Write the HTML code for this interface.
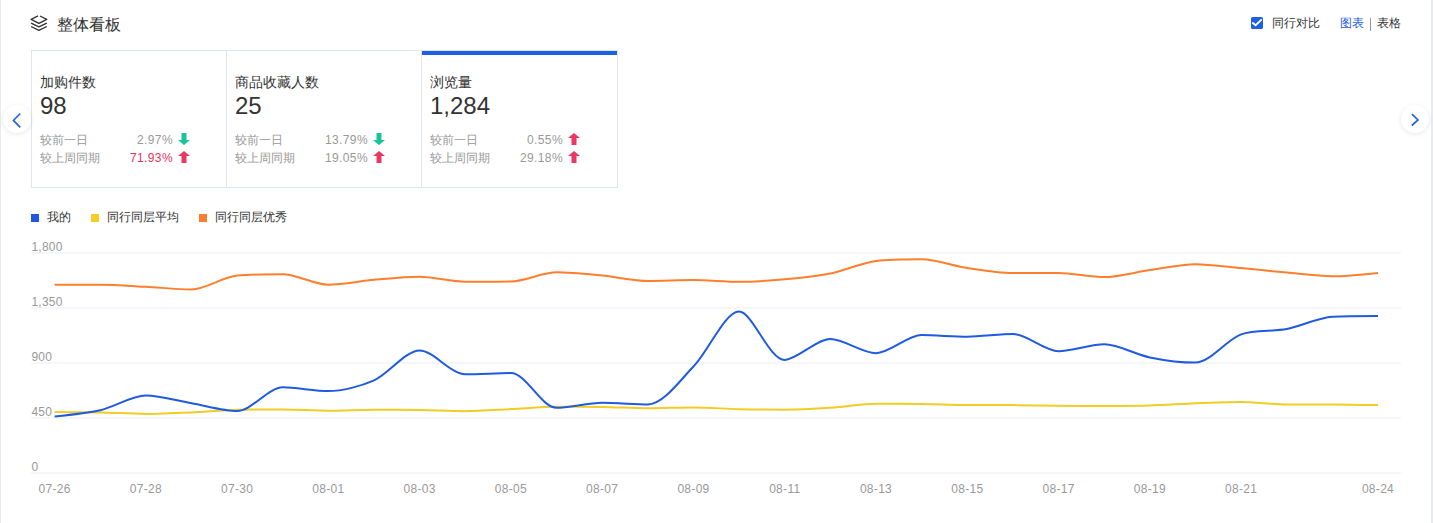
<!DOCTYPE html>
<html><head><meta charset="utf-8">
<style>
*{box-sizing:border-box}
html,body{margin:0;padding:0;background:#fff;width:1433px;height:523px;overflow:hidden;position:relative;font-family:"Liberation Sans",sans-serif}
.a{position:absolute;white-space:nowrap}
.title{left:57px;top:14px;font-size:16px;line-height:22px;color:#333}
.cards{left:31px;top:50px;width:587px;height:138px;border:1px solid #dde5ef}
.div1{left:226px;top:50px;width:1px;height:138px;background:#dde5ef}
.div2{left:421px;top:50px;width:1px;height:138px;background:#dde5ef}
.bar{left:422px;top:51px;width:195px;height:4px;background:#1f5fe3}
.lab{font-size:14px;line-height:20px;color:#333}
.val{font-size:24px;line-height:28px;color:#333}
.rl{font-size:12px;line-height:18px;color:#999}
.pc{font-size:12px;line-height:18px;color:#999;text-align:right;width:80px;letter-spacing:0.4px}
.red{color:#e8345c}
.nav{width:28px;height:28px;border-radius:50%;background:#fff;box-shadow:0 1px 5px rgba(0,0,0,0.10)}
.lg{font-size:12px;line-height:16px;color:#333}
.sq{width:8px;height:8px}
.yl{position:absolute;left:31.5px;font-size:12px;line-height:14px;color:#999;letter-spacing:0.2px}
.xl{position:absolute;top:481px;width:60px;text-align:center;font-size:12px;line-height:16px;color:#999;letter-spacing:0.3px}
</style></head><body>
<div class="a" style="left:0;top:0;width:1px;height:523px;background:#e8eaf0"></div>
<div class="a" style="left:1431px;top:0;width:2px;height:523px;background:#e8eaf0"></div>

<svg class="a" style="left:30px;top:14px" width="18" height="18" viewBox="0 0 18 18">
<path d="M8 1.95 L1.1 5.3 L8.9 9.3 L16.8 5.3 L10 2" fill="none" stroke="#333" stroke-width="1.3" stroke-linejoin="round"/>
<path d="M1.1 9.1 L8.9 12.9 L16.8 9.1" fill="none" stroke="#333" stroke-width="1.3" stroke-linejoin="round"/>
<path d="M1.1 12.5 L8.9 16.4 L16.8 12.5" fill="none" stroke="#333" stroke-width="1.3" stroke-linejoin="round"/>
</svg>
<div class="a title">整体看板</div>

<div class="a" style="left:1251px;top:17px;width:12px;height:12px;border-radius:1.5px;background:#1f5fe3"></div>
<svg class="a" style="left:1251px;top:17px" width="12" height="12" viewBox="0 0 12 12"><path d="M1.3 5.5 L4.6 8.2 L10.8 2.4" fill="none" stroke="#fff" stroke-width="1.8"/></svg>
<div class="a" style="left:1272px;top:14px;font-size:12px;line-height:18px;color:#333">同行对比</div>
<div class="a" style="left:1340px;top:14px;font-size:12px;line-height:18px;color:#1f5fe3">图表</div>
<div class="a" style="left:1370px;top:18px;width:1px;height:13px;background:#999"></div>
<div class="a" style="left:1377px;top:14px;font-size:12px;line-height:18px;color:#333">表格</div>

<div class="a cards"></div>
<div class="a div1"></div>
<div class="a div2"></div>
<div class="a bar"></div>

<!-- card 1 -->
<div class="a lab" style="left:40px;top:72px">加购件数</div>
<div class="a val" style="left:40px;top:92px">98</div>
<div class="a rl" style="left:40px;top:131px">较前一日</div>
<div class="a rl" style="left:40px;top:149px">较上周同期</div>
<div class="a pc" style="left:93px;top:131px">2.97%</div>
<div class="a pc red" style="left:93px;top:149px">71.93%</div>
<!-- card 2 -->
<div class="a lab" style="left:235px;top:72px">商品收藏人数</div>
<div class="a val" style="left:235px;top:92px">25</div>
<div class="a rl" style="left:235px;top:131px">较前一日</div>
<div class="a rl" style="left:235px;top:149px">较上周同期</div>
<div class="a pc" style="left:288px;top:131px">13.79%</div>
<div class="a pc" style="left:288px;top:149px">19.05%</div>
<!-- card 3 -->
<div class="a lab" style="left:430px;top:72px">浏览量</div>
<div class="a val" style="left:430px;top:92px">1,284</div>
<div class="a rl" style="left:430px;top:131px">较前一日</div>
<div class="a rl" style="left:430px;top:149px">较上周同期</div>
<div class="a pc" style="left:483px;top:131px">0.55%</div>
<div class="a pc" style="left:483px;top:149px">29.18%</div>

<!-- arrows -->
<svg class="a" style="left:178px;top:133px" width="12" height="12" viewBox="0 0 12 12"><path d="M3.5 0 H8.5 V7 H12 L6 12 L0 7 H3.5 Z" fill="#19c49a"/></svg>
<svg class="a" style="left:178px;top:151px" width="12" height="12" viewBox="0 0 12 12"><path d="M3.5 12 H8.5 V5 H12 L6 0 L0 5 H3.5 Z" fill="#ea3862"/></svg>
<svg class="a" style="left:373px;top:133px" width="12" height="12" viewBox="0 0 12 12"><path d="M3.5 0 H8.5 V7 H12 L6 12 L0 7 H3.5 Z" fill="#19c49a"/></svg>
<svg class="a" style="left:373px;top:151px" width="12" height="12" viewBox="0 0 12 12"><path d="M3.5 12 H8.5 V5 H12 L6 0 L0 5 H3.5 Z" fill="#ea3862"/></svg>
<svg class="a" style="left:568px;top:133px" width="12" height="12" viewBox="0 0 12 12"><path d="M3.5 12 H8.5 V5 H12 L6 0 L0 5 H3.5 Z" fill="#ea3862"/></svg>
<svg class="a" style="left:568px;top:151px" width="12" height="12" viewBox="0 0 12 12"><path d="M3.5 12 H8.5 V5 H12 L6 0 L0 5 H3.5 Z" fill="#ea3862"/></svg>

<!-- nav -->
<div class="a nav" style="left:3px;top:105px"></div>
<svg class="a" style="left:3px;top:105px" width="28" height="28" viewBox="0 0 28 28"><path d="M17.3 8.5 L10.4 15.4 L17.3 22.3" fill="none" stroke="#2962e0" stroke-width="1.7"/></svg>
<div class="a nav" style="left:1401px;top:105px"></div>
<svg class="a" style="left:1401px;top:105px" width="28" height="28" viewBox="0 0 28 28"><path d="M11 9.2 L17 15 L10.8 20.5" fill="none" stroke="#2962e0" stroke-width="1.7"/></svg>

<!-- legend -->
<div class="a sq" style="left:31px;top:214px;background:#1f59e0"></div>
<div class="a lg" style="left:47px;top:209px">我的</div>
<div class="a sq" style="left:91px;top:214px;background:#f5cd24"></div>
<div class="a lg" style="left:107px;top:209px">同行同层平均</div>
<div class="a sq" style="left:199px;top:214px;background:#fb7d2f"></div>
<div class="a lg" style="left:215px;top:209px">同行同层优秀</div>

<svg width="1433" height="523" style="position:absolute;left:0;top:0">
<rect x="31" y="252" width="1370" height="2" fill="#f5f6fa"/>
<rect x="31" y="307" width="1370" height="2" fill="#f5f6fa"/>
<rect x="31" y="362" width="1370" height="2" fill="#f5f6fa"/>
<rect x="31" y="417" width="1370" height="2" fill="#f5f6fa"/>
<rect x="31" y="472" width="1370" height="2" fill="#f5f6fa"/>
<path d="M54.60 411.90 C54.60 411.90 86.55 412.10 100.23 412.40 C113.93 412.70 132.18 413.90 145.87 413.90 C159.56 413.90 177.82 413.03 191.50 412.40 C205.20 411.77 223.44 409.90 237.14 409.70 C250.82 409.50 269.08 409.50 282.77 409.50 C296.47 409.50 314.72 410.70 328.41 410.70 C342.10 410.70 360.35 409.70 374.04 409.70 C387.73 409.70 405.99 409.78 419.68 410.00 C433.37 410.23 451.62 411.20 465.31 411.20 C479.01 411.20 497.26 409.77 510.94 409.10 C524.64 408.42 542.88 406.70 556.58 406.70 C570.26 406.70 588.53 406.70 602.21 406.90 C615.91 407.10 634.16 408.30 647.85 408.30 C661.54 408.30 679.80 407.40 693.48 407.40 C707.18 407.40 725.42 408.85 739.12 409.20 C752.80 409.54 771.07 409.70 784.75 409.70 C798.45 409.70 816.72 408.70 830.39 407.80 C844.10 406.90 862.30 403.70 876.02 403.70 C889.68 403.70 907.97 403.71 921.66 403.90 C935.35 404.10 953.60 404.90 967.29 405.00 C980.98 405.10 999.23 405.00 1012.92 405.10 C1026.62 405.20 1044.87 405.66 1058.56 405.80 C1072.25 405.93 1090.50 406.00 1104.19 406.00 C1117.88 406.00 1136.15 406.00 1149.83 405.60 C1163.53 405.20 1181.77 403.83 1195.46 403.30 C1209.15 402.78 1227.41 402.10 1241.10 402.10 C1254.79 402.10 1273.03 404.40 1286.73 404.40 C1300.41 404.40 1318.68 404.40 1332.37 404.40 C1346.06 404.40 1378.00 405.10 1378.00 405.10" fill="none" stroke="#f2cc22" stroke-width="2"/>
<path d="M54.60 284.80 C54.60 284.80 86.55 284.80 100.23 284.80 C113.93 284.80 132.18 286.11 145.87 286.80 C159.56 287.49 178.11 289.40 191.50 289.40 C205.49 289.40 223.15 276.75 237.14 275.50 C250.53 274.30 269.25 274.30 282.77 274.30 C296.63 274.30 314.58 284.70 328.41 284.70 C341.96 284.70 360.33 280.99 374.04 279.80 C387.71 278.62 406.01 276.80 419.68 276.80 C433.39 276.80 451.58 281.80 465.31 281.80 C478.96 281.80 497.39 281.80 510.94 281.50 C524.77 281.19 542.77 272.30 556.58 272.30 C570.15 272.30 588.55 274.30 602.21 275.60 C615.93 276.91 634.11 281.00 647.85 281.00 C661.49 281.00 679.80 280.10 693.48 280.10 C707.18 280.10 725.43 281.80 739.12 281.80 C752.81 281.80 771.11 280.56 784.75 279.30 C798.49 278.04 816.89 276.12 830.39 273.40 C844.27 270.60 862.09 262.66 876.02 260.90 C889.47 259.20 908.09 259.20 921.66 259.20 C935.47 259.20 953.52 265.92 967.29 268.00 C980.90 270.06 999.19 273.00 1012.92 273.00 C1026.57 273.00 1044.90 272.90 1058.56 272.90 C1072.28 272.90 1090.55 277.10 1104.19 277.10 C1117.93 277.10 1136.11 272.04 1149.83 270.10 C1163.50 268.17 1181.74 264.20 1195.46 264.20 C1209.12 264.20 1227.41 266.84 1241.10 268.10 C1254.80 269.36 1273.03 271.37 1286.73 272.60 C1300.41 273.83 1318.67 276.30 1332.37 276.30 C1346.05 276.30 1378.00 272.90 1378.00 272.90" fill="none" stroke="#fd7f2d" stroke-width="2"/>
<path d="M54.60 416.40 C54.60 416.40 86.82 413.27 100.23 410.20 C114.20 407.00 131.94 395.50 145.87 395.50 C159.32 395.50 177.82 400.88 191.50 403.20 C205.20 405.53 224.17 411.00 237.14 411.00 C251.55 411.00 268.29 387.30 282.77 387.30 C295.67 387.30 314.88 391.10 328.41 391.10 C342.26 391.10 361.40 386.04 374.04 380.40 C388.78 373.83 405.59 350.40 419.68 350.40 C432.97 350.40 450.79 374.30 465.31 374.30 C478.17 374.30 498.81 373.00 510.94 373.00 C526.19 373.00 541.37 407.80 556.58 407.80 C568.75 407.80 588.49 402.80 602.21 402.80 C615.87 402.80 635.94 404.40 647.85 404.40 C663.32 404.40 681.06 379.14 693.48 366.50 C708.44 351.27 724.94 311.50 739.12 311.50 C752.32 311.50 769.14 360.00 784.75 360.00 C796.53 360.00 816.35 339.00 830.39 339.00 C843.74 339.00 862.51 353.20 876.02 353.20 C889.89 353.20 907.47 335.10 921.66 335.10 C934.85 335.10 953.61 336.70 967.29 336.70 C980.99 336.70 999.68 334.00 1012.92 334.00 C1027.06 334.00 1044.49 351.20 1058.56 351.20 C1071.87 351.20 1090.70 344.30 1104.19 344.30 C1118.08 344.30 1135.91 354.61 1149.83 357.40 C1163.29 360.10 1182.83 362.60 1195.46 362.60 C1210.21 362.60 1226.35 339.81 1241.10 334.40 C1253.73 329.76 1273.23 331.70 1286.73 329.10 C1300.62 326.42 1318.44 317.52 1332.37 316.80 C1345.82 316.10 1378.00 316.10 1378.00 316.10" fill="none" stroke="#1f5ae2" stroke-width="2"/>
</svg><div class="yl" style="top:240px">1,800</div><div class="yl" style="top:295px">1,350</div><div class="yl" style="top:350px">900</div><div class="yl" style="top:405px">450</div><div class="yl" style="top:460px">0</div><div class="xl" style="left:24.6px">07-26</div><div class="xl" style="left:115.9px">07-28</div><div class="xl" style="left:207.1px">07-30</div><div class="xl" style="left:298.4px">08-01</div><div class="xl" style="left:389.7px">08-03</div><div class="xl" style="left:480.9px">08-05</div><div class="xl" style="left:572.2px">08-07</div><div class="xl" style="left:663.5px">08-09</div><div class="xl" style="left:754.8px">08-11</div><div class="xl" style="left:846.0px">08-13</div><div class="xl" style="left:937.3px">08-15</div><div class="xl" style="left:1028.6px">08-17</div><div class="xl" style="left:1119.8px">08-19</div><div class="xl" style="left:1211.1px">08-21</div><div class="xl" style="left:1348.0px">08-24</div>
</body></html>
